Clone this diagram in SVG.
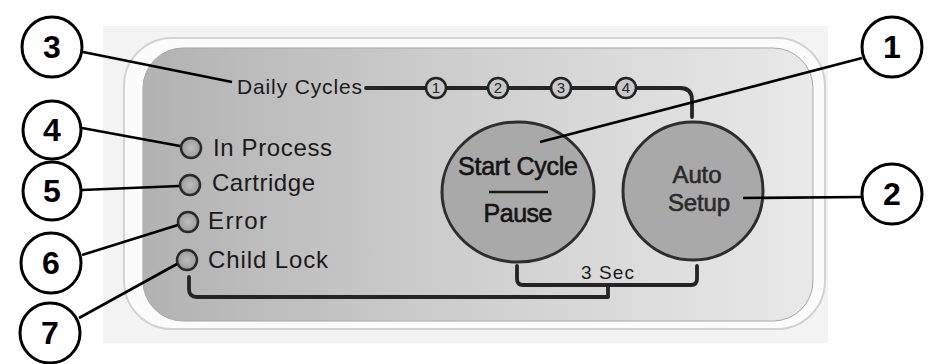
<svg xmlns="http://www.w3.org/2000/svg" width="931" height="364" viewBox="0 0 931 364">
<style>
.pt{font-family:"Liberation Sans",Arial,sans-serif;fill:#1a1a1a}
.cn{font-family:"Liberation Sans",Arial,sans-serif;font-weight:bold;font-size:32px;fill:#000;text-anchor:middle}
.cc{fill:#fff;stroke:#000;stroke-width:3}
.ld{stroke:#000;stroke-width:2.6;fill:none}
.led{fill:url(#ledg);stroke:#2a2a2a;stroke-width:2.5}
.dk{stroke:#242424;stroke-width:3.8;fill:none;stroke-linecap:round;stroke-linejoin:round}
.sn{fill:#c9c9c9;stroke:#242424;stroke-width:2.6}
.snt{font-family:"Liberation Sans",Arial,sans-serif;font-size:15px;fill:#242424;text-anchor:middle}
.btn{fill:#a9a9a9;stroke:#2e2e2e;stroke-width:3}
.bt{font-family:"Liberation Sans",Arial,sans-serif;fill:#141414;stroke:#141414;stroke-width:0.6;text-anchor:middle}
</style>
<defs>
<linearGradient id="pg" x1="0" y1="0" x2="1" y2="0">
<stop offset="0" stop-color="#b2b2b2"/>
<stop offset="0.45" stop-color="#cdcdcd"/>
<stop offset="1" stop-color="#e9e9e9"/>
</linearGradient>
<radialGradient id="ledg" cx="0.5" cy="0.5" r="0.5">
<stop offset="0" stop-color="#bdbdbd"/>
<stop offset="1" stop-color="#9a9a9a"/>
</radialGradient>
</defs>
<rect width="931" height="364" fill="#fff"/>
<rect x="103" y="26" width="725" height="317" fill="#f3f3f3"/>
<rect x="124" y="38" width="701" height="291" rx="48" fill="#fbfbfb" stroke="#d2d2d2" stroke-width="2"/>
<rect x="143" y="48" width="670" height="273" rx="40" fill="url(#pg)" stroke="#a8a8a8" stroke-width="1"/>

<g id="daily-cycles">
<path class="dk" d="M366 88 H680 Q692 88 692 100 V117"/>
<text class="pt" x="237" y="94" font-size="21" textLength="125">Daily Cycles</text>
<circle class="sn" cx="436" cy="88" r="10"/><text class="snt" x="436" y="93">1</text>
<circle class="sn" cx="498" cy="88" r="10"/><text class="snt" x="498" y="93">2</text>
<circle class="sn" cx="561" cy="88" r="10"/><text class="snt" x="561" y="93">3</text>
<circle class="sn" cx="626" cy="88" r="10"/><text class="snt" x="626" y="93">4</text>
</g>

<g id="led-in-process">
<circle class="led" cx="191" cy="148" r="10"/>
<text class="pt" x="213" y="156" font-size="24" textLength="119">In Process</text>
</g>
<g id="led-cartridge">
<circle class="led" cx="190" cy="185" r="10"/>
<text class="pt" x="212" y="191" font-size="24" textLength="103">Cartridge</text>
</g>
<g id="led-error">
<circle class="led" cx="188" cy="222" r="10"/>
<text class="pt" x="208" y="229" font-size="24" textLength="59">Error</text>
</g>
<g id="led-child-lock">
<circle class="led" cx="187" cy="260" r="10"/>
<text class="pt" x="208" y="268" font-size="24" textLength="120">Child Lock</text>
</g>

<g id="bracket">
<path class="dk" d="M189 277 V289 Q189 297 197 297 H608 V286"/>
<path class="dk" d="M517 266 V279 Q517 285 523 285 H691 Q697 285 697 279 V266"/>
<text class="pt" x="581" y="279" font-size="19" textLength="53">3 Sec</text>
</g>

<g id="btn-start">
<ellipse class="btn" cx="518" cy="192" rx="76" ry="70"/>
<text class="bt" x="518" y="175" font-size="25" textLength="120">Start Cycle</text>
<line x1="489" y1="192" x2="548" y2="192" stroke="#1a1a1a" stroke-width="2.5"/>
<text class="bt" x="518" y="222" font-size="25" textLength="69">Pause</text>
</g>
<g id="btn-auto">
<ellipse class="btn" cx="693" cy="191" rx="70" ry="69"/>
<text class="bt" x="697" y="183" font-size="24" textLength="49" style="fill:#2a2a2a;stroke:#2a2a2a">Auto</text>
<text class="bt" x="699" y="211" font-size="24" textLength="62" style="fill:#2a2a2a;stroke:#2a2a2a">Setup</text>
</g>

<g id="connectors">
<line class="ld" x1="862" y1="58" x2="540" y2="142"/>
<line class="ld" x1="862" y1="197" x2="743" y2="198"/>
<line class="ld" x1="83" y1="52" x2="232" y2="82"/>
<line class="ld" x1="82" y1="128" x2="180" y2="146"/>
<line class="ld" x1="82" y1="190" x2="179" y2="186"/>
<line class="ld" x1="82" y1="255" x2="178" y2="225"/>
<line class="ld" x1="79" y1="318" x2="177" y2="264"/>
</g>

<g id="callout-1"><circle class="cc" cx="892" cy="47" r="30"/><text class="cn" x="892" y="58">1</text></g>
<g id="callout-2"><circle class="cc" cx="892" cy="194" r="30"/><text class="cn" x="892" y="205">2</text></g>
<g id="callout-3"><circle class="cc" cx="52" cy="47" r="30"/><text class="cn" x="52" y="58">3</text></g>
<g id="callout-4"><circle class="cc" cx="52" cy="130" r="29"/><text class="cn" x="52" y="141">4</text></g>
<g id="callout-5"><circle class="cc" cx="52" cy="191" r="29"/><text class="cn" x="52" y="202">5</text></g>
<g id="callout-6"><circle class="cc" cx="51" cy="263" r="30"/><text class="cn" x="51" y="274">6</text></g>
<g id="callout-7"><circle class="cc" cx="50" cy="333" r="30"/><text class="cn" x="50" y="344">7</text></g>
</svg>
